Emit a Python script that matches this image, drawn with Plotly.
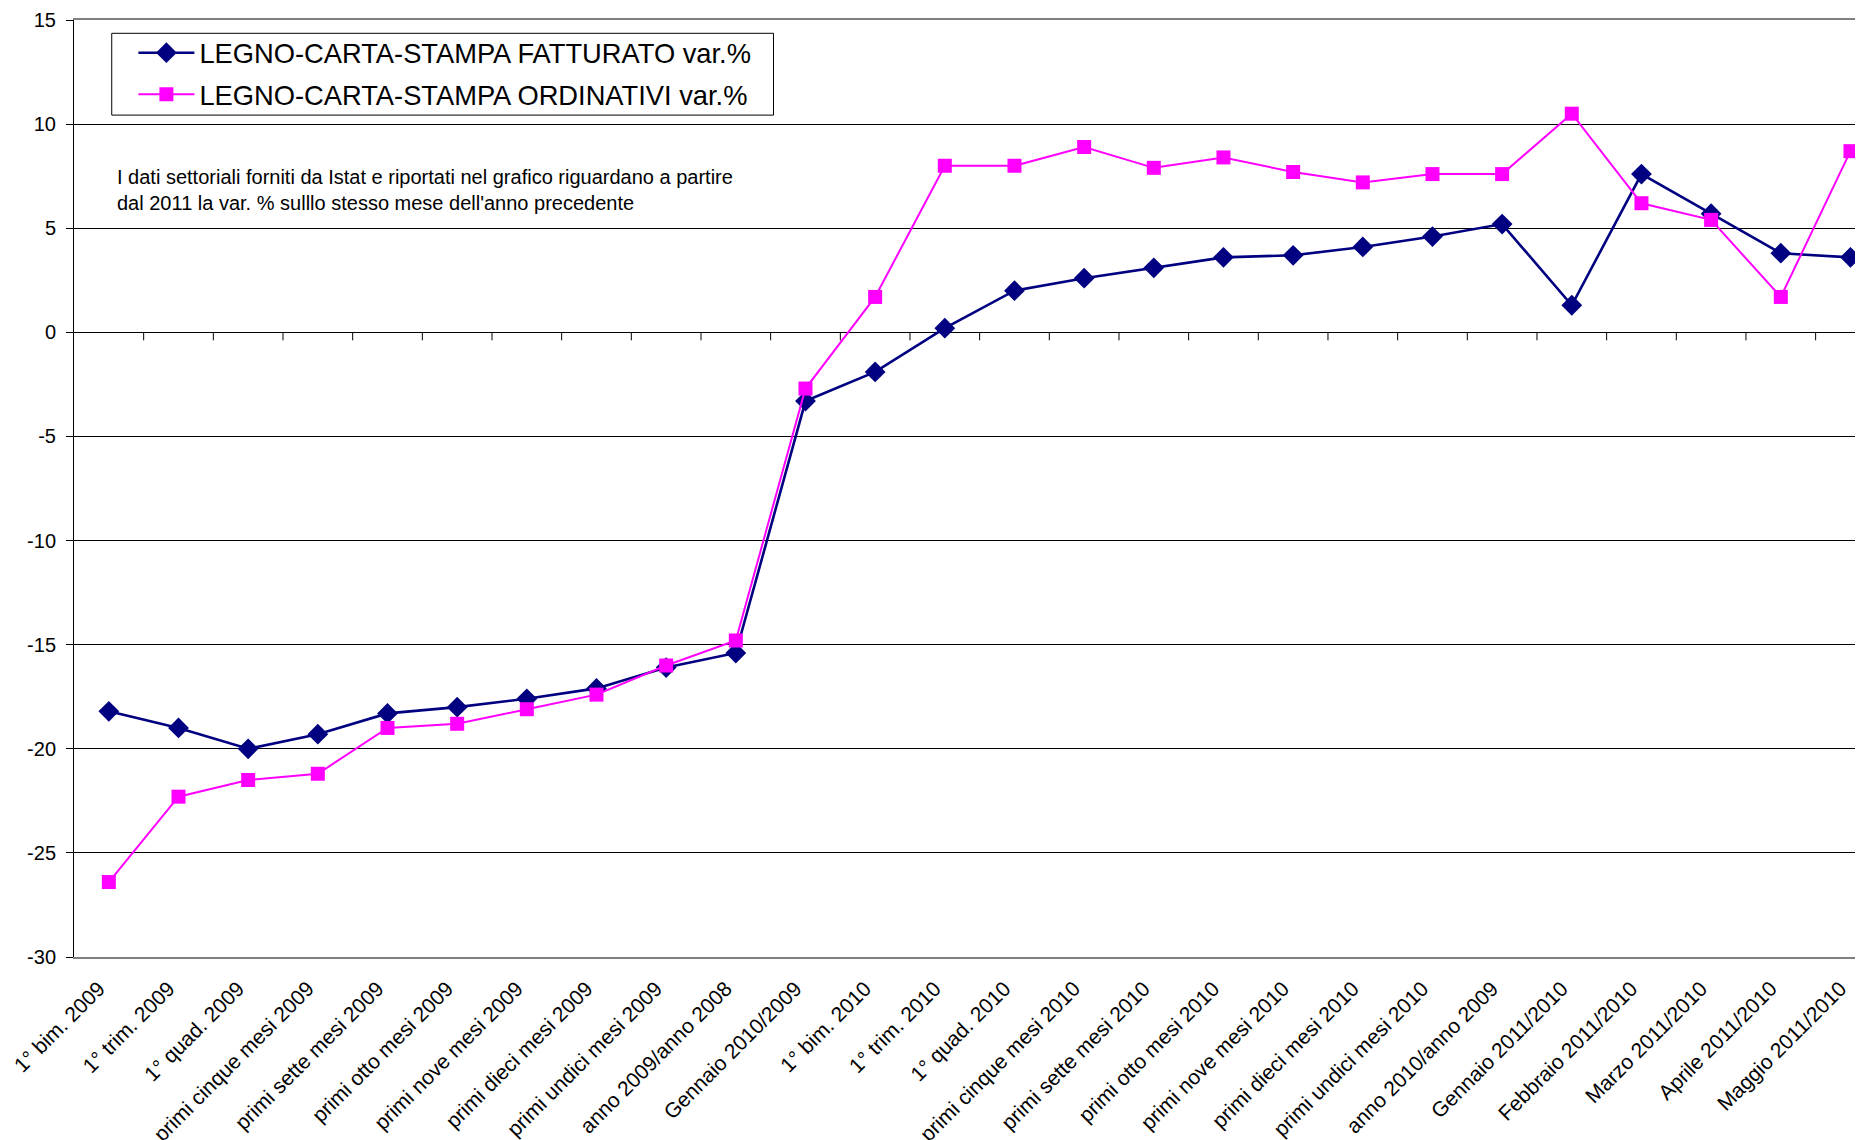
import plotly.graph_objects as go

categories = [
    "1° bim. 2009", "1° trim. 2009", "1° quad. 2009", "primi cinque mesi 2009",
    "primi sette mesi 2009", "primi otto mesi 2009", "primi nove mesi 2009",
    "primi dieci mesi 2009", "primi undici mesi 2009", "anno 2009/anno 2008",
    "Gennaio 2010/2009", "1° bim. 2010", "1° trim. 2010", "1° quad. 2010",
    "primi cinque mesi 2010", "primi sette mesi 2010", "primi otto mesi 2010",
    "primi nove mesi 2010", "primi dieci mesi 2010", "primi undici mesi 2010",
    "anno 2010/anno 2009", "Gennaio 2011/2010", "Febbraio 2011/2010",
    "Marzo 2011/2010", "Aprile 2011/2010", "Maggio 2011/2010",
]

fatturato = [-18.2, -19.0, -20.0, -19.3, -18.3, -18.0, -17.6, -17.1, -16.1, -15.4,
             -3.3, -1.9, 0.2, 2.0, 2.6, 3.1, 3.6, 3.7, 4.1, 4.6,
             5.2, 1.3, 7.6, 5.7, 3.8, 3.6]

ordinativi = [-26.4, -22.3, -21.5, -21.2, -19.0, -18.8, -18.1, -17.4, -16.0, -14.8,
              -2.7, 1.7, 8.0, 8.0, 8.9, 7.9, 8.4, 7.7, 7.2, 7.6,
              7.6, 10.5, 6.2, 5.4, 1.7, 8.7]

y_ticks = [15, 10, 5, 0, -5, -10, -15, -20, -25, -30]
y_labels = ["15", "10", "5", "0", "-5", "-10", "-15", "-20", "-25", "-30"]

name_f = "LEGNO-CARTA-STAMPA FATTURATO var.%"
name_o = "LEGNO-CARTA-STAMPA ORDINATIVI var.%"
note = ("I dati settoriali forniti da Istat e riportati nel grafico riguardano a partire<br>"
        "dal 2011 la var. % sulllo stesso mese dell'anno precedente")

FONT = "Liberation Sans, Arial, sans-serif"
xs = list(range(len(categories)))

fig = go.Figure()
fig.add_trace(go.Scatter(
    x=xs, y=fatturato, name=name_f, mode="lines+markers", legendgroup="f",
    line=dict(color="#000080", width=2.6),
    marker=dict(symbol="diamond", size=16, color="#000080"),
))
fig.add_trace(go.Scatter(
    x=xs, y=ordinativi, name=name_o, mode="lines+markers", legendgroup="o",
    line=dict(color="#FF00FF", width=2),
    marker=dict(symbol="square", size=14, color="#FF00FF"),
))

# tick marks on the zero line, at category boundaries
shapes = []
for k in range(len(categories)):
    shapes.append(dict(
        type="line", xref="x", yref="y", x0=k + 0.5, x1=k + 0.5,
        ysizemode="pixel", yanchor=0, y0=0, y1=-8,
        line=dict(color="black", width=1),
    ))
# legend frame
shapes.append(dict(
    type="rect", xref="paper", yref="paper",
    x0=0.0211, x1=0.391, y0=0.8985, y1=0.9858,
    line=dict(color="black", width=1), fillcolor="white", layer="above",
))

PLOT_H = 937.5
fig.update_layout(
    width=1855, height=1132,
    margin=dict(l=66, r=0, t=12, b=1132 - 12 - PLOT_H),
    paper_bgcolor="white", plot_bgcolor="white",
    font=dict(family=FONT, size=20, color="black"),
    showlegend=True,
    legend=dict(
        x=0.0332, y=0.991, xanchor="left", yanchor="top",
        borderwidth=0, bgcolor="rgba(0,0,0,0)",
        font=dict(family=FONT, size=27.3, color="black"),
        tracegroupgap=3, itemwidth=56,
    ),
    shapes=shapes,
    annotations=[dict(
        text=note, xref="paper", yref="paper",
        x=0.0231, y=0.8458,
        xanchor="left", yanchor="top", align="left", showarrow=False,
        font=dict(family=FONT, size=20, color="black"),
    )],
    xaxis=dict(
        range=[-0.5, 25.18], automargin=False,
        tickmode="array", tickvals=xs, ticktext=categories,
        tickangle=-45, ticks="outside", ticklen=9, tickcolor="rgba(0,0,0,0)",
        ticklabelshift=-10,
        showgrid=False, zeroline=False,
        showline=True, linecolor="#808080", linewidth=2, mirror=True,
        tickfont=dict(family=FONT, size=21, color="black"),
    ),
    yaxis=dict(
        range=[-30, 15], automargin=False,
        tickmode="array", tickvals=y_ticks, ticktext=y_labels,
        ticks="outside", ticklen=7, tickcolor="black", ticklabelstandoff=6,
        showgrid=True, gridcolor="black", gridwidth=1,
        zeroline=True, zerolinecolor="black", zerolinewidth=1,
        showline=True, linecolor="black", linewidth=1,
        tickfont=dict(family=FONT, size=20, color="black"),
    ),
)

fig.write_html("out.html")
